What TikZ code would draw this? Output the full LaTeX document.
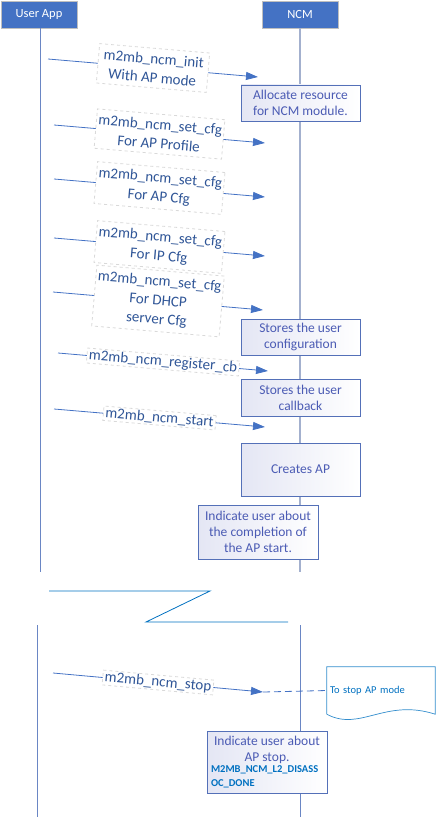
\documentclass[tikz,border=0pt]{standalone}
\usepackage{fontspec}
\setmainfont{Carlito}
\usetikzlibrary{arrows.meta}
\definecolor{hdrblue}{HTML}{4472C4}
\definecolor{msgblue}{HTML}{4472C4}
\definecolor{txtblue}{HTML}{2F5597}
\definecolor{boxtxt}{HTML}{4B5BB4}
\definecolor{boxline}{HTML}{5470B8}
\definecolor{boxfill}{HTML}{E4E6F4}
\definecolor{lifegray}{HTML}{A3B0CE}
\definecolor{lifeblue}{HTML}{6A86C4}
\definecolor{notecol}{HTML}{0070C0}

\begin{document}
\begin{tikzpicture}[x=1pt,y=-1pt,
        header/.style={draw=gray!50, fill=hdrblue, text=white, minimum width=76pt,
            minimum height=27pt, inner sep=0pt, font=\fontsize{12.5}{15}\selectfont},
        actbox/.style={draw=boxline, left color=boxfill, right color=white, text=boxtxt,
            align=center, inner sep=0pt, font=\fontsize{13.5}{16}\selectfont},
        msg/.style={draw=msgblue, line width=0.8pt, -{Triangle[length=12pt,width=8pt]}},
        msglabel/.style={sloped, midway, fill=white, draw=gray!30, dashed, text=txtblue,
            align=center, inner xsep=2pt, inner ysep=5pt, font=\fontsize{15}{19}\selectfont},
    ]
        \useasboundingbox (0,0) rectangle (438,821);

        % lifeline heads
        \node [header] (ua) at (39,14.5) {User App};
        \node [header] (ncm) at (300,14.5) {NCM};

        % lifelines, upper part
        \coordinate (uaend) at (40,572);
        \coordinate (ncmend) at (300,572);
        \draw [lifeblue, line width=0.9pt] (ua.south -| uaend) -- (uaend);
        \draw [lifegray, line width=1.6pt] (ncm.south) -- (ncmend);

        % lifelines, lower part
        \coordinate (uatop) at (37,625);
        \coordinate (uabot) at (37,817);
        \coordinate (ncmtop) at (300,625);
        \coordinate (ncmbot) at (300,817);
        \draw [lifeblue, line width=0.9pt] (uatop) -- (uabot);
        \draw [lifeblue, line width=0.9pt] (ncmtop) -- (ncmbot);

        % break
        \draw [notecol, line width=0.8pt] (49,591) -- (210,591) -- (146,622) -- (288,622);

        % activity boxes
        \node [actbox, minimum width=119pt, minimum height=36pt] (alloc) at (300.5,103)
            {Allocate resource\\for NCM module.};
        \node [actbox, minimum width=119pt, minimum height=36pt] (storecfg) at (300.5,337)
            {Stores the user\\configuration};
        \node [actbox, minimum width=119pt, minimum height=37pt] (storecb) at (300.5,397.5)
            {Stores the user\\callback};
        \node [actbox, minimum width=119pt, minimum height=53pt] (createap) at (300.5,469.5)
            {Creates AP};
        \node [actbox, minimum width=120pt, minimum height=54pt] (indstart) at (258,532)
            {Indicate user about\\the completion of\\the AP start.};
        \node [actbox, minimum width=120pt, minimum height=62pt] (indstop) at (267,762)
            {Indicate user about\\AP stop.\\[1pt]
             \parbox{112pt}{\raggedright\fontsize{10.5}{14.5}\selectfont\bfseries\color{notecol}
             M2MB\_NCM\_L2\_DISASS\\OC\_DONE}};

        % messages
        \coordinate (inits) at (48,59);
        \coordinate (inite) at (258,77);
        \coordinate (profs) at (54,125);
        \coordinate (profe) at (265,143);
        \coordinate (apcfgs) at (54,179);
        \coordinate (apcfge) at (265,197);
        \coordinate (ipcfgs) at (54,238);
        \coordinate (ipcfge) at (265,256);
        \coordinate (dhcps) at (53,292);
        \coordinate (dhcpe) at (263,310);
        \coordinate (regs) at (58,353);
        \coordinate (rege) at (268,371);
        \coordinate (starts) at (54,409);
        \coordinate (starte) at (265,427);
        \coordinate (stops) at (53,673);
        \coordinate (stope) at (263,692);

        \draw [msg] (inits) -- node [msglabel, inner xsep=5pt] {m2mb\_ncm\_init\\With AP mode} (inite);
        \draw [msg] (profs) -- node [msglabel] {m2mb\_ncm\_set\_cfg\\For AP Profile} (profe);
        \draw [msg] (apcfgs) -- node [msglabel] {m2mb\_ncm\_set\_cfg\\For AP Cfg} (apcfge);
        \draw [msg] (ipcfgs) -- node [msglabel] {m2mb\_ncm\_set\_cfg\\For IP Cfg} (ipcfge);
        \draw [msg] (dhcps) -- node [msglabel] {m2mb\_ncm\_set\_cfg\\For DHCP\\server Cfg} (dhcpe);
        \draw [msg] (regs) -- node [msglabel, inner ysep=1pt] {m2mb\_ncm\_register\_cb} (rege);
        \draw [msg] (starts) -- node [msglabel, inner ysep=1pt] {m2mb\_ncm\_start} (starte);
        \draw [msg] (stops) -- node [msglabel, inner ysep=1pt] {m2mb\_ncm\_stop} (stope);

        % note
        \node [minimum width=108pt, minimum height=47pt, text width=102pt, align=left,
            inner sep=3pt, text=notecol, font=\fontsize{10.5}{13}\selectfont] (note) at (381,690.5)
            {To stop AP mode};
        \draw [notecol!80, line width=0.7pt] (note.south west) -- (note.north west) -- (note.north east)
            -- (note.south east) .. controls (385,698) and (360,732) .. (note.south west);
        \draw [msgblue, line width=0.8pt, dash pattern=on 7pt off 4pt] (stope) -- (note.west);
    \end{tikzpicture}
\end{document}
